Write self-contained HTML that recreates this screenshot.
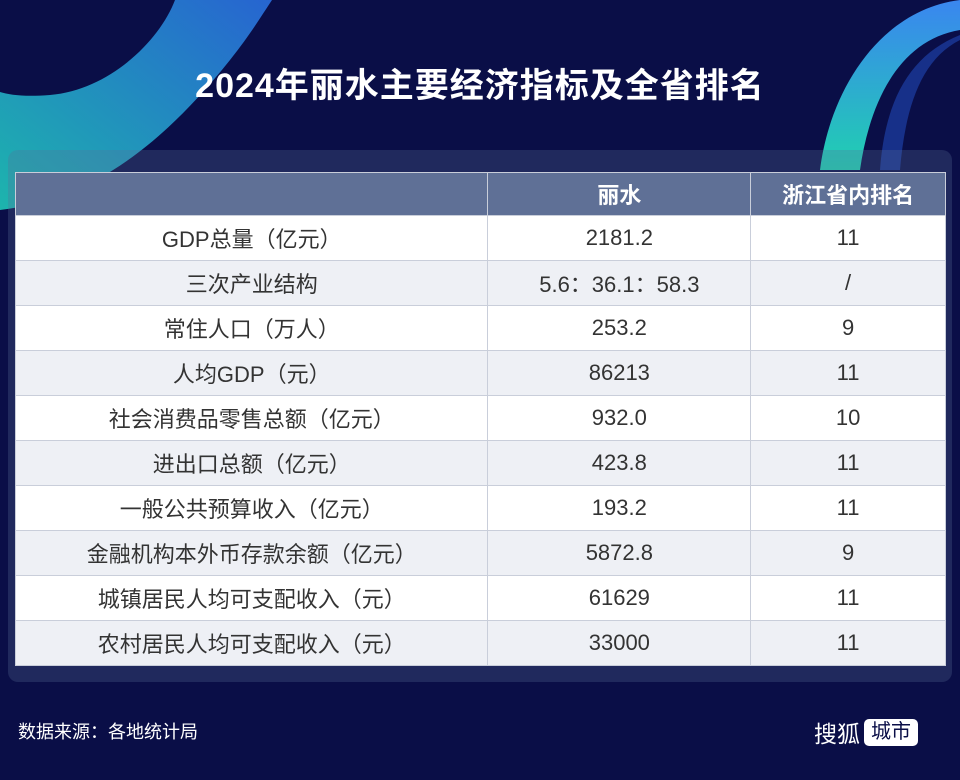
<!DOCTYPE html>
<html><head><meta charset="utf-8">
<style>
body{margin:0;width:960px;height:780px;overflow:hidden;background:#0a0e47;font-family:"Liberation Sans","Noto Sans CJK SC",sans-serif;position:relative}
.title{position:absolute;top:58px;left:0;width:960px;text-align:center;color:#fff;font-size:34px;font-weight:bold;letter-spacing:1px}
.panel{position:absolute;left:8px;top:150px;width:944px;height:532px;background:rgba(90,110,150,0.28);border-radius:10px}
table{position:absolute;left:15px;top:172px;border-collapse:collapse;width:931px}
td{height:44px;padding:0;text-align:center;font-size:22px;color:#333;border:1px solid #c9ceda}
tr.h td{background:#5f7096;color:#fff;font-weight:bold;height:42px}
tr:nth-child(even) td{background:#ffffff}
tr:nth-child(odd):not(.h) td{background:#eef0f5}
.src{position:absolute;left:18px;top:718px;color:#fff;font-size:18px}
.logo{position:absolute;left:814px;top:715px;color:#fff;font-size:23px;display:flex;align-items:center;gap:4px}
.logo span{background:#fff;color:#0a0e47;border-radius:5px;padding:0 7px;font-size:20px;line-height:27px}
</style></head><body>
<svg width="960" height="780" style="position:absolute;left:0;top:0">
<defs>
<linearGradient id="g1" x1="0" y1="1" x2="1" y2="0"><stop offset="0" stop-color="#1fc7b8"/><stop offset="1" stop-color="#2a6ee0"/></linearGradient>
<linearGradient id="g2" x1="0" y1="1" x2="0" y2="0"><stop offset="0" stop-color="#20d0b0"/><stop offset="1" stop-color="#3a86f0"/></linearGradient>
</defs>
<path d="M0,150 L0,210 C80,200 150,160 230,60 C250,35 262,15 272,0 L175,0 C160,40 110,90 50,95 C25,97 10,95 0,92 Z" fill="url(#g1)" opacity="0.9"/>
<path d="M960,0 L960,30 C900,40 870,100 860,170 L820,170 C830,90 880,10 960,0 Z" fill="url(#g2)"/>
<path d="M960,40 C920,60 905,110 900,170 L880,170 C885,100 910,55 960,35 Z" fill="#1a3a9a" opacity="0.8"/>
</svg>
<div class="title">2024年丽水主要经济指标及全省排名</div>
<div class="panel"></div>
<table>
<colgroup><col style="width:473px"><col style="width:263px"><col style="width:195px"></colgroup>
<tr class="h"><td></td><td>丽水</td><td>浙江省内排名</td></tr>
<tr><td>GDP总量（亿元）</td><td>2181.2</td><td>11</td></tr>
<tr><td>三次产业结构</td><td>5.6：36.1：58.3</td><td>/</td></tr>
<tr><td>常住人口（万人）</td><td>253.2</td><td>9</td></tr>
<tr><td>人均GDP（元）</td><td>86213</td><td>11</td></tr>
<tr><td>社会消费品零售总额（亿元）</td><td>932.0</td><td>10</td></tr>
<tr><td>进出口总额（亿元）</td><td>423.8</td><td>11</td></tr>
<tr><td>一般公共预算收入（亿元）</td><td>193.2</td><td>11</td></tr>
<tr><td>金融机构本外币存款余额（亿元）</td><td>5872.8</td><td>9</td></tr>
<tr><td>城镇居民人均可支配收入（元）</td><td>61629</td><td>11</td></tr>
<tr><td>农村居民人均可支配收入（元）</td><td>33000</td><td>11</td></tr>
</table>
<div class="src">数据来源：各地统计局</div>
<div class="logo">搜狐<span>城市</span></div>
</body></html>
